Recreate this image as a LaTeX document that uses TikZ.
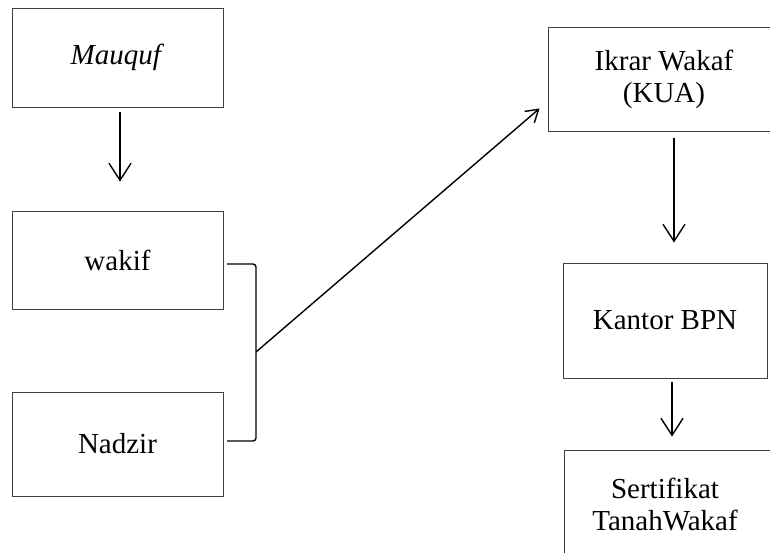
\documentclass[tikz,border=0pt]{standalone}
\usepackage{fontspec}
\setmainfont{Liberation Serif}
\usetikzlibrary{arrows.meta,calc}
\definecolor{BoxClr}{rgb}{0.25,0.25,0.25}

\begin{document}
\begin{tikzpicture}[x=1bp,y=-1bp,
  kotak/.style={draw=BoxClr,line width=0.9pt,align=center,inner sep=0pt,
    font=\fontsize{29bp}{32bp}\selectfont},
  panah/.style={line width=1.4pt,-{Straight Barb[length=17bp,width=22bp,line width=1.4pt]}}]
\useasboundingbox (0,0) rectangle (770,553);

\node[kotak,minimum width=211bp,minimum height=99bp] (mauquf) at (117.5,57.5) {\textit{Mauquf}};
\node[kotak,minimum width=211bp,minimum height=98bp] (wakif) at (117.5,260) {wakif};
\node[kotak,minimum width=211bp,minimum height=104bp] (nadzir) at (117.5,444) {Nadzir};

\node[kotak,minimum width=232bp,minimum height=104bp] (ikrar) at (664,79) {Ikrar Wakaf\\(KUA)};
\node[kotak,minimum width=204bp,minimum height=115bp] (kantor) at (665,320.5) {Kantor BPN};
\node[kotak,minimum width=216bp,minimum height=110bp] (sertif) at (672,505) {\hspace*{-14bp}Sertifikat\\\hspace*{-14bp}TanahWakaf};

\coordinate (kA) at (227,264);
\coordinate (kB) at (256,264);
\coordinate (kC) at (256,441);
\coordinate (kD) at (227,441);
\coordinate (kM) at (256,352);

\draw[line width=1.4pt,rounded corners=3bp] (kA) -- (kB) -- (kC) -- (kD);

\draw[panah] ($(mauquf.south)+(2.5,5)$) -- ($(wakif.north)+(2.5,-29)$);
\draw[panah] ($(ikrar.south)+(10,7)$) -- ($(kantor.north)+(9,-20)$);
\draw[panah] ($(kantor.south)+(7,4)$) -- ($(sertif.north)+(0,-13)$);
\draw[line width=1.4pt,-{Straight Barb[length=12bp,width=15bp,line width=1.4pt]}]
  (kM) -- ($(ikrar.south west)+(-8,-23)$);

\end{tikzpicture}
\end{document}
